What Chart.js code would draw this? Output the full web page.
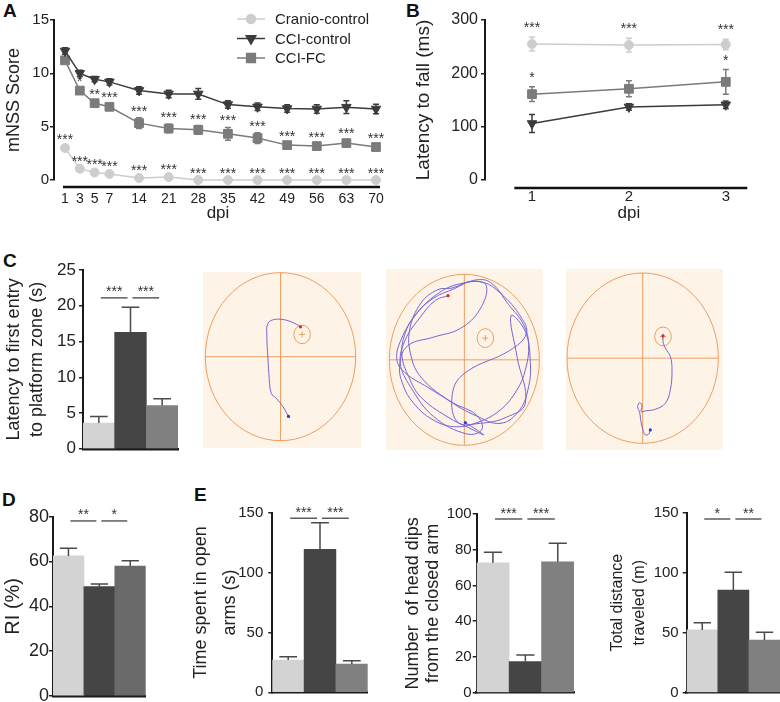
<!DOCTYPE html>
<html>
<head>
<meta charset="utf-8">
<script src="https://cdn.jsdelivr.net/npm/chart.js@4.4.1/dist/chart.umd.min.js"></script>
<style>
  body { margin: 0; background: #fff; width: 780px; height: 702px; position: relative; overflow: hidden;
         font-family: "Liberation Sans", Arial, sans-serif; }
  canvas { position: absolute; }
  .panel { position: absolute; font-weight: bold; font-size: 19px; line-height: 19px; color: #111; }
</style>
</head>
<body>
<div class="panel" style="left:3px;top:1px">A</div>
<div class="panel" style="left:406px;top:1px">B</div>
<div class="panel" style="left:3px;top:251px">C</div>
<div class="panel" style="left:2px;top:490px">D</div>
<div class="panel" style="left:194px;top:485px">E</div>

<canvas id="chartA" width="400" height="225" style="left:0;top:0"></canvas>
<canvas id="chartB" width="380" height="225" style="left:400px;top:0"></canvas>
<canvas id="chartC" width="190" height="222" style="left:0;top:240px"></canvas>
<canvas id="pool1" width="158" height="176" style="left:203px;top:272px"></canvas>
<canvas id="pool2" width="157" height="181" style="left:386px;top:269px"></canvas>
<canvas id="pool3" width="157" height="181" style="left:566px;top:269px"></canvas>
<canvas id="chartD" width="160" height="220" style="left:0;top:490px"></canvas>
<canvas id="chartE1" width="190" height="222" style="left:185px;top:490px"></canvas>
<canvas id="chartE2" width="185" height="222" style="left:395px;top:490px"></canvas>
<canvas id="chartE3" width="180" height="222" style="left:600px;top:490px"></canvas>

<script>
// groups
const groups = ['Cranio-control', 'CCI-control', 'CCI-FC'];
const lineColors = ['#cdcdcd', '#3b3b3b', '#7b7b7b'];
const barColors = ['#d3d3d3', '#454545', '#808080'];

// A: mNSS over days post injury
const dpi = [1, 3, 5, 7, 14, 21, 28, 35, 42, 49, 56, 63, 70];
const cranioMnss = [3.0, 1.06, 0.7, 0.57, 0.19, 0.28, 0, 0, 0, 0, 0, 0, 0];
const cranioMnssErr = [0.15, 0.1, 0.1, 0.1, 0.08, 0.08, 0, 0, 0, 0, 0, 0, 0];
const cciMnss = [12.1, 10.0, 9.45, 9.2, 8.4, 8.07, 8.07, 7.07, 6.86, 6.7, 6.66, 6.83, 6.66];
const cciMnssErr = [0.3, 0.3, 0.25, 0.3, 0.35, 0.35, 0.5, 0.35, 0.35, 0.35, 0.4, 0.6, 0.45];
const fcMnss = [11.22, 8.38, 7.2, 6.86, 5.33, 4.83, 4.7, 4.33, 3.93, 3.27, 3.18, 3.46, 3.09];
const fcMnssErr = [0.3, 0.25, 0.25, 0.25, 0.5, 0.4, 0.4, 0.6, 0.5, 0.2, 0.2, 0.25, 0.2];
const cranioMnssSig = ['***', '***', '***', '***', '***', '***', '***', '***', '***', '***', '***', '***', '***'];
const fcMnssSig = ['', '*', '**', '***', '***', '***', '***', '***', '***', '***', '***', '***', '***'];

// B: rotarod latency
const rotarodDpi = [1, 2, 3];
const cranioRotarod = [255, 253, 254];
const cranioRotarodErr = [13, 13, 10];
const cciRotarod = [106, 137, 141];
const cciRotarodErr = [17, 6, 7];
const fcRotarod = [161, 171, 184];
const fcRotarodErr = [14, 15, 23];
const cranioRotarodSig = ['***', '***', '***'];
const fcRotarodSig = ['*', '', '*'];

// C: water maze latency
const mwmLatency = [3.6, 16.3, 6.05];
const mwmLatencyErr = [0.9, 3.5, 0.95];
const mwmSig = [[0, 1, '***'], [1, 2, '***']];

// D: recognition index
const ri = [62.5, 48.8, 58.0];
const riErr = [3.4, 1.2, 2.4];
const riSig = [[0, 1, '**'], [1, 2, '*']];

// E: elevated plus maze / open field
const openArms = [27, 119.4, 23.6];
const openArmsErr = [2.7, 22.3, 2.8];
const openArmsSig = [[0, 1, '***'], [1, 2, '***']];
const headDips = [72.7, 17.4, 73.3];
const headDipsErr = [5.9, 3.7, 10.3];
const headDipsSig = [[0, 1, '***'], [1, 2, '***']];
const distance = [52.3, 85.6, 43.9];
const distanceErr = [6.0, 14.7, 6.4];
const distanceSig = [[0, 1, '*'], [1, 2, '**']];

// swim tracks (camera coords, y down)
const track1 = [[267,560],[250,530],[230,505],[215,490],[208,430],[205,380],[202,320],[205,280],[225,268],[260,270],[290,282],[303,290]];
const track2 = [[795,578],[830,600],[850,615],[815,598],[740,560],[660,500],[625,440],[605,380],[612,318],[645,255],[700,205],[760,178],[820,152],[870,158],[925,225],[970,285],[985,345],[975,420],[950,480],[900,540],[830,578],[760,590],[695,568],[640,520],[608,465],[598,405],[622,348],[700,322],[780,296],[838,240],[858,168],[815,155],[755,175],[712,180],[662,220],[628,300],[632,378],[662,442],[740,508],[828,558],[902,580],[958,540],[985,470],[990,398],[975,305],[932,258],[950,380],[975,520],[918,562],[840,580],[770,575],[758,482],[800,425],[928,362],[978,312],[962,262],[902,192],[848,158],[780,162],[718,188],[652,248],[602,330],[590,392],[618,432],[682,472],[760,520],[828,555],[845,598],[800,612],[700,560],[630,470],[600,400],[615,330],[660,262],[705,212],[743,198]];
const track3 = [[1350,600],[1345,612],[1335,615],[1328,600],[1322,575],[1318,548],[1312,530],[1318,518],[1325,528],[1322,545],[1335,543],[1365,538],[1395,520],[1410,480],[1415,420],[1410,380],[1395,355],[1388,335],[1388,318]];
const pools = [
  { view: [10, 485, 125, 655], cx: 243, cy: 380, rx: 226, ry: 253, px: 308, py: 313 },
  { view: [557, 1028, 118, 660], cx: 792, cy: 390, rx: 225, ry: 256, px: 855, py: 325 },
  { view: [1097, 1568, 118, 660], cx: 1327, cy: 385, rx: 227, ry: 255, px: 1388, py: 320 }
];

Chart.defaults.font.family = '"Liberation Sans", Arial, sans-serif';
Chart.defaults.color = '#222';

// day -> axis slot (first week every 2 days, then every 7 days at double width)
function dpiPos(d) { return d <= 7 ? (d - 1) / 2 : 3 + 2 * (d - 7) / 7; }

function yScale(o) {
  return {
    min: 0, max: o.max,
    ticks: { stepSize: o.step, font: { size: o.tick }, color: '#222', padding: o.tickPad },
    grid: { drawOnChartArea: false, drawTicks: true, tickLength: 4, color: '#222', lineWidth: 1.5 },
    border: { display: true, color: '#1a1a1a', width: 2 },
    title: { display: true, text: o.title, color: '#222',
             font: { size: o.titleSize, lineHeight: o.lh || 1.2 }, padding: { top: o.titlePad, bottom: 0 } },
    afterFit: s => { s.width = o.width; }
  };
}

function series(i, xs, ys, style, radius, rot) {
  return {
    label: groups[i], data: xs.map((x, j) => ({ x: x, y: ys[j] })),
    borderColor: lineColors[i], backgroundColor: lineColors[i], borderWidth: 1.5,
    pointStyle: style, pointRadius: radius, pointRotation: rot || 0, pointBorderWidth: 1, clip: false
  };
}

function lineExtras(errs, sigs, starGap, axisSpan, axisDrop, legendAt) {
  return {
    id: 'lineExtras',
    beforeDatasetsDraw(chart) {
      const ctx = chart.ctx, y = chart.scales.y;
      ctx.save();
      ctx.lineWidth = 1.5;
      chart.data.datasets.forEach((ds, i) => {
        const pts = chart.getDatasetMeta(i).data;
        ctx.strokeStyle = ds.borderColor;
        ds.data.forEach((d, j) => {
          const e = errs[i][j];
          if (!e) return;
          const x = pts[j].x, y0 = y.getPixelForValue(d.y + e), y1 = y.getPixelForValue(d.y - e);
          ctx.beginPath();
          ctx.moveTo(x, y0); ctx.lineTo(x, y1);
          ctx.moveTo(x - 3, y0); ctx.lineTo(x + 3, y0);
          ctx.moveTo(x - 3, y1); ctx.lineTo(x + 3, y1);
          ctx.stroke();
        });
      });
      // detached x axis line
      const xs = chart.scales.x, ya = chart.chartArea.bottom + axisDrop;
      ctx.strokeStyle = '#111';
      ctx.lineWidth = 2.5;
      ctx.beginPath();
      ctx.moveTo(xs.getPixelForValue(axisSpan[0]), ya);
      ctx.lineTo(xs.getPixelForValue(axisSpan[1]), ya);
      ctx.stroke();
      ctx.restore();
    },
    afterDatasetsDraw(chart) {
      const ctx = chart.ctx, y = chart.scales.y;
      ctx.save();
      ctx.fillStyle = '#333';
      ctx.font = '14px "Liberation Sans", Arial';
      ctx.textAlign = 'center';
      ctx.textBaseline = 'alphabetic';
      chart.data.datasets.forEach((ds, i) => {
        if (!sigs[i]) return;
        const pts = chart.getDatasetMeta(i).data;
        ds.data.forEach((d, j) => {
          const s = sigs[i][j];
          if (!s) return;
          const top = y.getPixelForValue(d.y + (errs[i][j] || 0));
          ctx.fillText(s, pts[j].x, top - starGap);
        });
      });
      if (legendAt) {
        ctx.textAlign = 'left';
        ctx.textBaseline = 'middle';
        ctx.font = '15px "Liberation Sans", Arial';
        chart.data.datasets.forEach((ds, i) => {
          const ly = legendAt.y + i * legendAt.dy;
          ctx.strokeStyle = ds.borderColor;
          ctx.fillStyle = ds.backgroundColor;
          ctx.lineWidth = 1.5;
          ctx.beginPath();
          ctx.moveTo(legendAt.x, ly); ctx.lineTo(legendAt.x + 28, ly);
          ctx.stroke();
          Chart.helpers.drawPoint(ctx, { pointStyle: ds.pointStyle, radius: ds.pointRadius, rotation: ds.pointRotation, borderWidth: 1 }, legendAt.x + 14, ly);
          ctx.fillStyle = '#222';
          ctx.fillText(ds.label, legendAt.x + 38, ly + 1);
        });
      }
      ctx.restore();
    }
  };
}

function barExtras(errs, sigs, level) {
  return {
    id: 'barExtras',
    afterDatasetsDraw(chart) {
      const ctx = chart.ctx, y = chart.scales.y, bars = chart.getDatasetMeta(0).data;
      const vals = chart.data.datasets[0].data;
      ctx.save();
      ctx.strokeStyle = '#4a4a4a';
      ctx.lineWidth = 1.5;
      bars.forEach((b, i) => {
        const top = y.getPixelForValue(vals[i] + errs[i]), cap = b.width * 0.28;
        ctx.beginPath();
        ctx.moveTo(b.x, y.getPixelForValue(vals[i])); ctx.lineTo(b.x, top);
        ctx.moveTo(b.x - cap, top); ctx.lineTo(b.x + cap, top);
        ctx.stroke();
      });
      const ly = y.getPixelForValue(level);
      ctx.strokeStyle = '#333';
      ctx.lineWidth = 1.2;
      ctx.fillStyle = '#333';
      ctx.font = '14px "Liberation Sans", Arial';
      ctx.textAlign = 'center';
      ctx.textBaseline = 'alphabetic';
      sigs.forEach(([i, j, txt]) => {
        const x0 = bars[i].x + 2, x1 = bars[j].x - 3;
        ctx.beginPath(); ctx.moveTo(x0, ly); ctx.lineTo(x1, ly); ctx.stroke();
        ctx.fillText(txt, (x0 + x1) / 2, ly - 1.5);
      });
      ctx.restore();
    }
  };
}

function barChart(id, values, errs, sigs, level, pad, xHeight, yopts, colors) {
  new Chart(document.getElementById(id), {
    type: 'bar',
    data: { labels: groups, datasets: [{ data: values, backgroundColor: colors || barColors,
                                         barPercentage: 1, categoryPercentage: 1, borderWidth: 0 }] },
    options: {
      responsive: false, animation: false, events: [],
      layout: { padding: pad },
      plugins: { legend: { display: false }, tooltip: { enabled: false } },
      scales: {
        x: { grid: { display: false, drawTicks: false }, ticks: { display: false },
             border: { display: true, color: '#1a1a1a', width: 2.5 },
             afterFit: s => { s.height = xHeight; } },
        y: yScale(yopts)
      }
    },
    plugins: [barExtras(errs, sigs, level)]
  });
}

// A
new Chart(document.getElementById('chartA'), {
  type: 'line',
  data: { datasets: [
    series(0, dpi.map(dpiPos), cranioMnss, 'circle', 4.5),
    series(1, dpi.map(dpiPos), cciMnss, 'triangle', 5.5, 180),
    series(2, dpi.map(dpiPos), fcMnss, 'rect', 6.2)
  ] },
  options: {
    responsive: false, animation: false, events: [],
    layout: { padding: { top: 20, right: 18, left: 0, bottom: 0 } },
    plugins: { legend: { display: false }, tooltip: { enabled: false } },
    scales: {
      x: { type: 'linear', min: -0.743, max: 21.405,
           afterBuildTicks: s => { s.ticks = dpi.map(d => ({ value: dpiPos(d) })); },
           ticks: { callback: (v, i) => dpi[i], font: { size: 14 }, color: '#222', padding: 10.6, autoSkip: false, maxRotation: 0 },
           grid: { display: false, drawTicks: false }, border: { display: false },
           title: { display: true, text: 'dpi', font: { size: 17 }, color: '#222', padding: { top: 0, bottom: 1.8 } },
           afterFit: s => { s.height = 45; } },
      y: yScale({ max: 15, step: 5, tick: 15, tickPad: 1, title: 'mNSS Score', titleSize: 18, titlePad: 3.2, width: 54 })
    }
  },
  plugins: [lineExtras([cranioMnssErr, cciMnssErr, fcMnssErr], [cranioMnssSig, null, fcMnssSig], 2,
                       [-0.135, 21.27], 7, { x: 237, y: 19, dy: 19.5 })]
});

// B
new Chart(document.getElementById('chartB'), {
  type: 'line',
  data: { datasets: [
    series(0, rotarodDpi, cranioRotarod, 'circle', 4.5),
    series(1, rotarodDpi, cciRotarod, 'triangle', 5.5, 180),
    series(2, rotarodDpi, fcRotarod, 'rect', 6.2)
  ] },
  options: {
    responsive: false, animation: false, events: [],
    layout: { padding: { top: 20, right: 1, left: 0, bottom: 0 } },
    plugins: { legend: { display: false }, tooltip: { enabled: false } },
    scales: {
      x: { type: 'linear', min: 0.515, max: 3.485,
           afterBuildTicks: s => { s.ticks = rotarodDpi.map(d => ({ value: d })); },
           ticks: { font: { size: 15 }, color: '#222', padding: 8, autoSkip: false, maxRotation: 0 },
           grid: { display: false, drawTicks: false }, border: { display: false },
           title: { display: true, text: 'dpi', font: { size: 17 }, color: '#222', padding: { top: 0, bottom: 1.8 } },
           afterFit: s => { s.height = 45; } },
      y: yScale({ max: 300, step: 100, tick: 16, tickPad: 3, title: 'Latency to fall (ms)', titleSize: 19, titlePad: 11.9, width: 85 })
    }
  },
  plugins: [lineExtras([cranioRotarodErr, cciRotarodErr, fcRotarodErr], [cranioRotarodSig, null, fcRotarodSig], 5,
                       [0.818, 3.222], 8, null)]
});

// C
barChart('chartC', mwmLatency, mwmLatencyErr, mwmSig, 21.1,
  { top: 30, right: 12, left: 0, bottom: 0 }, 12,
  { max: 25, step: 5, tick: 17, tickPad: 3, title: ['Latency to first entry', 'to platform zone (s)'],
    titleSize: 18, lh: 1.278, titlePad: 2.5, width: 83 });

// D
barChart('chartD', ri, riErr, riSig, 78.1,
  { top: 26.7, right: 14.3, left: 0, bottom: 0 }, 14,
  { max: 80, step: 20, tick: 18, tickPad: 0, title: 'RI (%)', titleSize: 20, titlePad: 1, width: 53 },
  ['#d3d3d3', '#454545', '#6a6a6a']);

// E
barChart('chartE1', openArms, openArmsErr, openArmsSig, 145.4,
  { top: 22.7, right: 7.3, left: 0, bottom: 0 }, 19.7,
  { max: 150, step: 50, tick: 15, tickPad: 5, title: ['Time spent in open', 'arms (s)'],
    titleSize: 18, lh: 1.611, titlePad: 1.5, width: 87.3 });
barChart('chartE2', headDips, headDipsErr, headDipsSig, 97.2,
  { top: 24, right: 6, left: 0, bottom: 0 }, 19.3,
  { max: 100, step: 20, tick: 15, tickPad: 1, title: ['Number  of head dips', 'from the closed arm'],
    titleSize: 18, lh: 1.111, titlePad: 8, width: 81.7 });
barChart('chartE3', distance, distanceErr, distanceSig, 144.75,
  { top: 22.7, right: 0, left: 0, bottom: 0 }, 19.3,
  { max: 150, step: 50, tick: 15, tickPad: 4, title: ['Total distance', 'traveled (m)'],
    titleSize: 16, lh: 1.375, titlePad: 7, width: 86.7 });

// water maze tracks
function poolChart(id, track, p) {
  const arena = {
    id: 'arena',
    beforeDatasetsDraw(chart) {
      const { ctx, chartArea: a, scales: { x, y } } = chart;
      const cx = x.getPixelForValue(p.cx), cy = y.getPixelForValue(p.cy);
      const rx = Math.abs(x.getPixelForValue(p.cx + p.rx) - cx), ry = Math.abs(y.getPixelForValue(p.cy + p.ry) - cy);
      const px = x.getPixelForValue(p.px), py = y.getPixelForValue(p.py);
      ctx.save();
      ctx.fillStyle = '#fdf4e7';
      ctx.fillRect(a.left, a.top, a.width, a.height);
      ctx.strokeStyle = '#ef9d62';
      ctx.lineWidth = 1;
      ctx.beginPath(); ctx.ellipse(cx, cy, rx, ry, 0, 0, Math.PI * 2); ctx.stroke();
      ctx.beginPath();
      ctx.moveTo(cx, cy - ry); ctx.lineTo(cx, cy + ry);
      ctx.moveTo(cx - rx, cy); ctx.lineTo(cx + rx, cy);
      ctx.stroke();
      ctx.beginPath(); ctx.ellipse(px, py, rx * 0.11, ry * 0.11, 0, 0, Math.PI * 2); ctx.stroke();
      ctx.beginPath();
      ctx.moveTo(px - 3, py); ctx.lineTo(px + 3, py);
      ctx.moveTo(px, py - 3); ctx.lineTo(px, py + 3);
      ctx.stroke();
      ctx.restore();
    },
    afterDatasetsDraw(chart) {
      const { ctx, scales: { x, y } } = chart;
      const s = track[0], e = track[track.length - 1];
      ctx.save();
      ctx.fillStyle = '#2b3bd6';
      ctx.beginPath(); ctx.arc(x.getPixelForValue(s[0]), y.getPixelForValue(s[1]), 1.6, 0, Math.PI * 2); ctx.fill();
      ctx.fillStyle = '#d8262b';
      ctx.beginPath(); ctx.arc(x.getPixelForValue(e[0]), y.getPixelForValue(e[1]), 1.6, 0, Math.PI * 2); ctx.fill();
      ctx.restore();
    }
  };
  new Chart(document.getElementById(id), {
    type: 'scatter',
    data: { datasets: [{ data: track.map(([x, y]) => ({ x, y })), showLine: true, borderColor: '#7566d6',
                         borderWidth: 1, pointRadius: 0, tension: 0.4 }] },
    options: {
      responsive: false, animation: false, events: [],
      layout: { padding: 0 },
      plugins: { legend: { display: false }, tooltip: { enabled: false } },
      scales: {
        x: { type: 'linear', display: false, min: p.view[0], max: p.view[1] },
        y: { type: 'linear', display: false, min: p.view[2], max: p.view[3], reverse: true }
      }
    },
    plugins: [arena]
  });
}
poolChart('pool1', track1, pools[0]);
poolChart('pool2', track2, pools[1]);
poolChart('pool3', track3, pools[2]);
</script>
</body>
</html>
